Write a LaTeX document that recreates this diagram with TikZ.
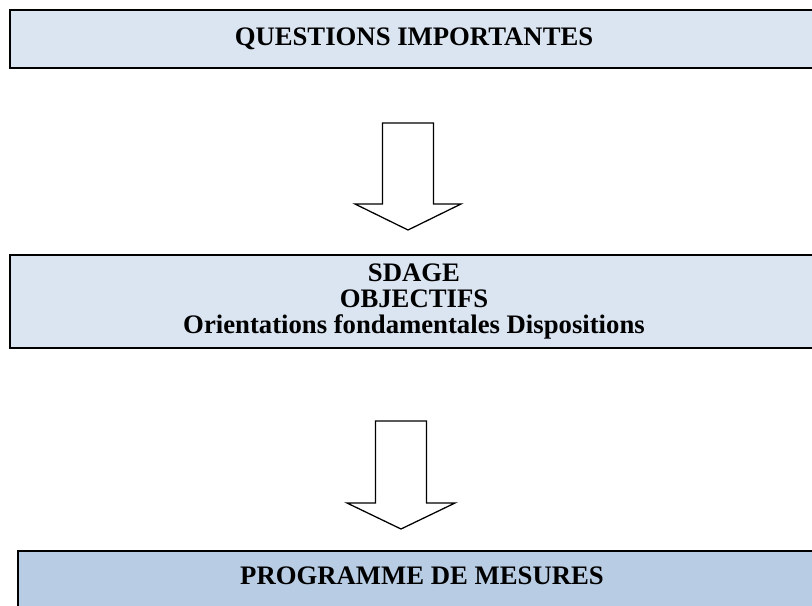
\documentclass[tikz,border=0pt]{standalone}
\usepackage{fontspec}
\setmainfont{Liberation Serif}
\definecolor{boxblue}{HTML}{DBE5F1}
\definecolor{boxdark}{HTML}{B8CCE4}
\tikzset{
	etape/.style={draw=black,line width=1.5pt,fill=boxblue,minimum width=20.2cm,
		inner sep=0pt,align=center,font=\fontsize{19}{18.8}\selectfont\bfseries},
	fleche/.style={draw=black,line width=0.9pt,fill=white,line join=miter}
}
\begin{document}
\begin{tikzpicture}
	\useasboundingbox (0,0) rectangle (20.3,-15.125);
	\clip (0,0) rectangle (20.3,-15.125);
	% the three stages
	\node[etape,minimum height=1.45cm] (questions) at (10.35,-0.975) {QUESTIONS IMPORTANTES};
	\node[etape,minimum height=2.325cm] (sdage) at (10.35,-7.5375) {SDAGE\\OBJECTIFS\\Orientations fondamentales Dispositions};
	\node[etape,fill=boxdark,minimum height=1.6cm,text depth=10pt] (programme) at (10.55,-14.575) {PROGRAMME DE MESURES};
	% hollow arrows in between
	\coordinate (haut1) at (10.2,-3.075);
	\coordinate (haut2) at (10.025,-10.525);
	\draw[fleche] (haut1) -- ++(0.6375,0) -- ++(0,-2.025) -- ++(0.6875,0) -- ++(-1.325,-0.65)
		-- ++(-1.325,0.65) -- ++(0.6875,0) -- ++(0,2.025) -- cycle;
	\draw[fleche] (haut2) -- ++(0.64,0) -- ++(0,-2.05) -- ++(0.71,0) -- ++(-1.35,-0.65)
		-- ++(-1.35,0.65) -- ++(0.71,0) -- ++(0,2.05) -- cycle;
\end{tikzpicture}
\end{document}
